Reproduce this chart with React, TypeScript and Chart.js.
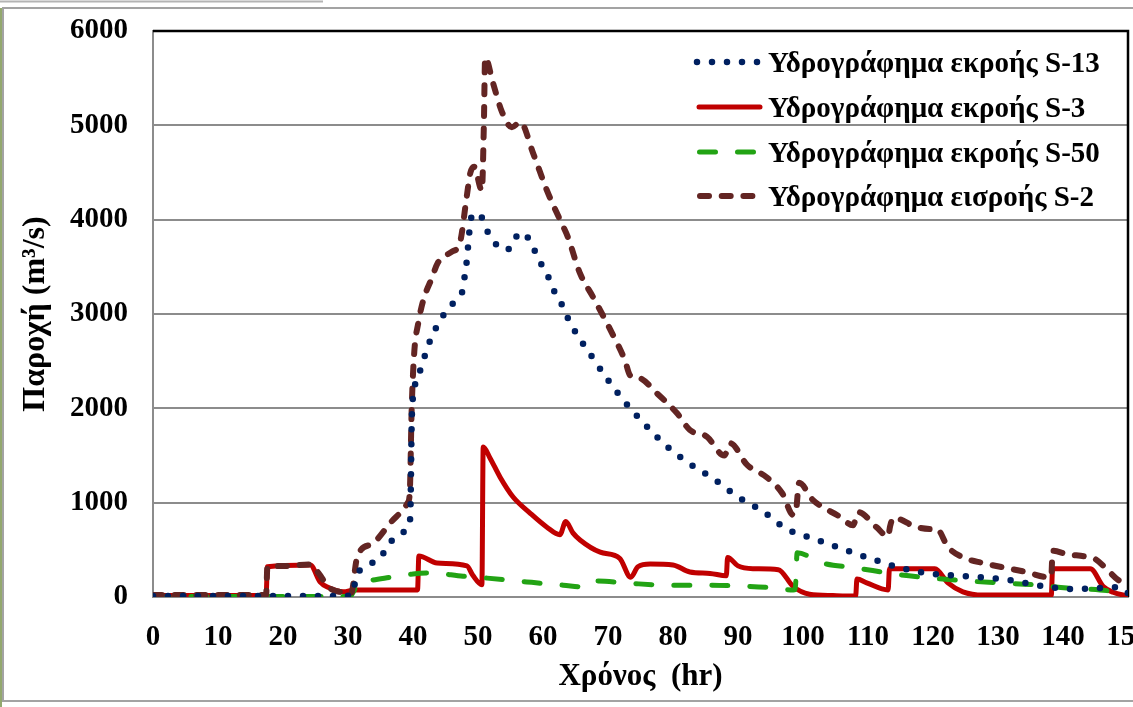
import React, { useEffect, useRef } from "react";
import { Chart, registerables } from "chart.js";

Chart.register(...registerables);

const FONT = '"Liberation Serif", "Times New Roman", serif';

// Legend labels
const seriesLabels = [
  "Υδρογράφημα εκροής S-13",
  "Υδρογράφημα εκροής S-3",
  "Υδρογράφημα εκροής S-50",
  "Υδρογράφημα εισροής S-2",
];

// Axis titles
const xTitle = "Χρόνος  (hr)";
const yTitle = "Παροχή (m³/s)";

// Axis ranges / ticks
const xMin = 0, xMax = 150, xStep = 10;
const yMin = 0, yMax = 6000, yStep = 1000;

// S-13 outflow (navy dotted)
const s13T = [0, 10, 20, 28, 30.5, 31.4, 33.1, 34.9, 36.2, 37.7, 39.4, 39.6, 39.8, 40.1, 40.7, 41.4, 42.1, 42.9, 43.9, 45.1, 46.6, 47.7, 48.0, 48.3, 48.5, 48.7, 49.1, 50.2, 51.2, 52.3, 54.0, 55.3, 56.3, 57.8, 58.8, 59.8, 60.9, 61.8, 62.9, 63.8, 64.9, 67.5, 70.0, 72.8, 75.8, 79.0, 82.6, 86.3, 90.0, 93.8, 97.5, 101.8, 106.0, 110.3, 114.9, 119.5, 126.0, 130.6, 137.5, 141.8, 148.8, 150];
const s13Q = [10, 10, 10, 10, 15, 235, 340, 410, 550, 660, 760, 900, 1850, 2160, 2320, 2460, 2620, 2760, 2900, 3030, 3150, 3270, 3430, 3580, 3740, 3890, 4050, 4060, 3910, 3780, 3680, 3720, 3860, 3800, 3660, 3520, 3380, 3230, 3100, 2960, 2820, 2550, 2300, 2050, 1820, 1600, 1410, 1250, 1060, 910, 720, 615, 510, 410, 310, 250, 215, 190, 110, 85, 105, 40];

// S-3 outflow (red solid)
const s3T = [0, 17.4, 17.6, 24.2, 25.7, 27.0, 29.3, 31.0, 40.7, 40.9, 43.7, 48.3, 49.2, 50.6, 50.8, 51.8, 53.4, 55.4, 58.0, 60.6, 62.6, 63.5, 64.6, 65.7, 68.8, 71.8, 73.5, 74.6, 76.5, 80.0, 82.6, 85.7, 88.2, 88.4, 90.0, 92.3, 96.2, 98.5, 101.0, 104.6, 108.1, 108.3, 109.8, 113.1, 113.3, 120.3, 122.3, 124.6, 127.7, 138.2, 138.4, 144.2, 146.2, 147.7, 150];
const s3Q = [15, 15, 320, 340, 160, 100, 55, 75, 75, 435, 360, 330, 230, 130, 1590, 1480, 1270, 1060, 890, 740, 660, 800, 680, 605, 475, 410, 210, 320, 350, 340, 265, 250, 225, 420, 330, 300, 290, 110, 30, 15, 10, 190, 150, 75, 300, 300, 150, 55, 20, 20, 300, 300, 110, 50, 10];

// S-50 outflow (green dashed)
const s50T = [0, 30.3, 30.8, 31.5, 33.8, 37.0, 40.0, 42.6, 47.7, 51.4, 57.5, 63.1, 66.8, 68.3, 73.4, 79.5, 85.2, 90.8, 95.0, 98.5, 98.8, 99.1, 103.0, 108.0, 115.0, 120.0, 125.2, 130.3, 135.4, 140.6, 145.7, 150];
const s50Q = [5, 5, 50, 140, 180, 215, 245, 255, 220, 200, 160, 125, 105, 170, 145, 125, 125, 115, 100, 75, 80, 470, 360, 310, 235, 200, 170, 150, 130, 95, 75, 40];

// S-2 inflow (brown dashed)
const s2T = [0, 10, 17.4, 17.6, 20, 24.2, 25.5, 27, 29, 30.5, 31.3, 32, 33.9, 36.5, 39.2, 39.5, 39.8, 40.2, 40.8, 41.6, 42.9, 43.8, 46, 47.2, 48.2, 48.8, 49.4, 50.6, 50.9, 51.1, 52.3, 53.7, 55.2, 56.5, 58.5, 60.6, 62.6, 63.8, 65.7, 67.7, 70.6, 72.6, 73.4, 74.9, 77.5, 80.6, 82.6, 85.2, 87.9, 88.8, 91.4, 94.4, 96.8, 98.5, 98.9, 99.4, 101.5, 105.7, 107.7, 108.5, 111.3, 113.1, 113.4, 113.9, 117.5, 120, 120.6, 122.3, 124.6, 127.7, 134.3, 137.8, 138.2, 138.4, 140.6, 143.7, 145, 146.8, 148.5, 150];
const s2Q = [20, 20, 20, 318, 328, 345, 250, 106, 50, 40, 390, 500, 570, 785, 1000, 1100, 2000, 2600, 2900, 3150, 3380, 3540, 3660, 3750, 4210, 4490, 4560, 4310, 5000, 5720, 5450, 5140, 4980, 5035, 4700, 4310, 4000, 3820, 3430, 3180, 2800, 2510, 2350, 2320, 2160, 1950, 1770, 1700, 1500, 1630, 1400, 1270, 1100, 870, 900, 1210, 1030, 850, 760, 900, 740, 640, 750, 840, 740, 720, 720, 530, 420, 360, 265, 210, 220, 490, 455, 425, 400, 290, 180, 130];

const colors = ["#002060", "#C00000", "#22A314", "#632523"];

function pts(t: number[], q: number[]) {
  return t.map((x, i) => ({ x, y: q[i] }));
}

const framePlugin = {
  id: "frame",
  beforeDraw(chart: any) {
    const ctx = chart.ctx;
    ctx.save();
    ctx.fillStyle = "#ffffff";
    ctx.fillRect(0, 0, chart.width, chart.height);
    ctx.fillStyle = "#93a86e";
    ctx.fillRect(0, 8, 2, chart.height - 8);
    ctx.strokeStyle = "#b4b4b4";
    ctx.lineWidth = 2;
    ctx.beginPath();
    ctx.moveTo(0, 1.5);
    ctx.lineTo(323, 1.5);
    ctx.stroke();
    ctx.fillStyle = "#ffffff";
    ctx.fillRect(3, 8, chart.width, 693);
    ctx.strokeStyle = "#a3a3a3";
    ctx.lineWidth = 2;
    ctx.strokeRect(3, 8, chart.width + 10, 693);
    ctx.restore();
  },
  beforeDatasetsDraw(chart: any) {
    const { ctx, chartArea } = chart;
    ctx.save();
    ctx.strokeStyle = "#000000";
    ctx.lineWidth = 2.5;
    ctx.beginPath();
    ctx.moveTo(chartArea.left, chartArea.top);
    ctx.lineTo(chartArea.right, chartArea.top);
    ctx.lineTo(chartArea.right, chartArea.bottom);
    ctx.stroke();
    ctx.restore();
  },
};

const legendPlugin = {
  id: "customLegend",
  afterDatasetsDraw(chart: any) {
    const ctx = chart.ctx;
    const rowY = [62, 107, 152, 196];
    const sampleStart = [697, 699, 699.5, 700];
    chart.data.datasets.forEach((ds: any, i: number) => {
      const y = rowY[i];
      ctx.save();
      ctx.strokeStyle = ds.borderColor;
      ctx.lineWidth = ds.borderWidth;
      ctx.setLineDash(ds.borderDash || []);
      ctx.lineCap = ds.borderCapStyle || "butt";
      ctx.beginPath();
      ctx.moveTo(sampleStart[i], y);
      ctx.lineTo(760, y);
      ctx.stroke();
      ctx.setLineDash([]);
      ctx.fillStyle = "#000000";
      ctx.font = `bold 29px ${FONT}`;
      ctx.textAlign = "left";
      ctx.textBaseline = "alphabetic";
      ctx.fillText(ds.label, 768, y + 10);
      ctx.restore();
    });
  },
};

export default function App() {
  const ref = useRef<HTMLCanvasElement | null>(null);

  useEffect(() => {
    if (!ref.current) return;
    const tickFont = { family: FONT, size: 29, weight: "bold" as const };
    const chart = new Chart(ref.current, {
      type: "line",
      data: {
        datasets: [
          {
            label: seriesLabels[0],
            data: pts(s13T, s13Q),
            borderColor: colors[0],
            borderWidth: 6.5,
            borderDash: [0, 15],
            borderCapStyle: "round",
            order: 0,
          },
          {
            label: seriesLabels[1],
            data: pts(s3T, s3Q),
            borderColor: colors[1],
            borderWidth: 5,
            borderCapStyle: "round",
            borderJoinStyle: "round",
            order: 3,
          },
          {
            label: seriesLabels[2],
            data: pts(s50T, s50Q),
            borderColor: colors[2],
            borderWidth: 5,
            borderDash: [16, 22],
            borderCapStyle: "round",
            order: 2,
          },
          {
            label: seriesLabels[3],
            data: pts(s2T, s2Q),
            borderColor: colors[3],
            borderWidth: 6,
            borderDash: [9, 12.7],
            borderCapStyle: "round",
            order: 1,
          },
        ] as any,
      },
      options: {
        animation: false,
        responsive: false,
        devicePixelRatio: 1,
        parsing: false as any,
        layout: { padding: { left: 0, top: 31, right: 5, bottom: 0 } },
        elements: {
          point: { radius: 0, hoverRadius: 0 },
          line: { tension: 0.4, cubicInterpolationMode: "monotone", fill: false },
        },
        plugins: {
          legend: { display: false },
          tooltip: { enabled: false },
        },
        scales: {
          x: {
            type: "linear",
            min: xMin,
            max: xMax,
            ticks: {
              stepSize: xStep,
              autoSkip: false,
              maxRotation: 0,
              color: "#000000",
              font: tickFont,
              padding: 23,
              callback: (v: any) => String(v),
            },
            grid: { display: false, drawTicks: false },
            border: { display: true, color: "#8c8c8c", width: 2 },
            title: {
              display: true,
              text: xTitle,
              color: "#000000",
              font: { family: FONT, size: 31, weight: "bold" },
              padding: { top: 0, bottom: 11 },
            },
            afterFit: (s: any) => {
              s.height = 110;
              s.paddingLeft = 0;
              s.paddingRight = 0;
            },
          },
          y: {
            type: "linear",
            min: yMin,
            max: yMax,
            ticks: {
              stepSize: yStep,
              color: "#000000",
              font: tickFont,
              padding: 25,
              callback: (v: any) => String(v),
            },
            grid: { color: "#8c8c8c", lineWidth: 2, drawTicks: false },
            border: { display: true, color: "#8c8c8c", width: 2 },
            title: {
              display: true,
              text: yTitle,
              color: "#000000",
              font: { family: FONT, size: 32, weight: "bold" },
              padding: { top: 17, bottom: 0 },
            },
            afterFit: (s: any) => {
              s.width = 153;
              s.paddingTop = 0;
              s.paddingBottom = 0;
            },
          },
        },
      } as any,
      plugins: [framePlugin, legendPlugin],
    });
    return () => chart.destroy();
  }, []);

  return (
    <div style={{ position: "fixed", left: 0, top: 0, width: 1133, height: 707, background: "#ffffff" }}>
      <canvas ref={ref} width={1133} height={707} style={{ display: "block" }} />
    </div>
  );
}
